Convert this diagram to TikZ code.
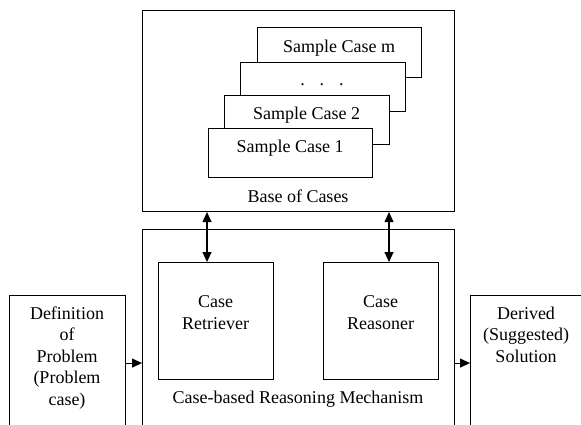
\documentclass[tikz,border=0pt]{standalone}
\usepackage{fontspec}
\setmainfont{Liberation Serif}
\usetikzlibrary{arrows.meta}
\begin{document}
\begin{tikzpicture}[x=1pt,y=-1pt,
  box/.style={draw, line width=1.1pt, fill=white, inner sep=0pt, anchor=north west},
  txt/.style={font=\fontsize{18}{21.5}\selectfont, align=center, inner sep=0pt, anchor=base},
  conn/.style={line width=1.1pt, -{Triangle[length=10pt,width=9pt]}},
  dconn/.style={line width=1.1pt, {Triangle[length=10pt,width=9pt]}-{Triangle[length=10pt,width=9pt]}}]
\useasboundingbox (0,0) rectangle (581,425);
\clip (0,0) rectangle (581,425);
% base of cases
\node[box, minimum width=312pt, minimum height=201pt] (base) at (142,10) {};
\node[box, minimum width=164pt, minimum height=50pt] (cm) at (257,27) {};
\node[box, minimum width=165pt, minimum height=49pt] (cd) at (240,62) {};
\node[box, minimum width=165pt, minimum height=49pt] (c2) at (224,95) {};
\node[box, minimum width=164pt, minimum height=49pt] (c1) at (208,128) {};
\node[txt] (tm) at (339,52.7) {Sample Case m};
\node[txt] (td) at (322,86) {.\hspace{15pt}.\hspace{15pt}.};
\node[txt] (t2) at (306.5,119.3) {Sample Case 2};
\node[txt] (t1) at (290,152.3) {Sample Case 1};
\node[txt] (tb) at (298,202.3) {Base of Cases};
% mechanism
\node[box, minimum width=312pt, minimum height=210pt] (mech) at (142,229) {};
\node[box, minimum width=115pt, minimum height=117pt] (ret) at (158,262) {};
\node[box, minimum width=115pt, minimum height=117pt] (rea) at (323,262) {};
\node[txt] (tret) at (215.5,329.3) {Case\\Retriever};
\node[txt] (trea) at (380.5,329.3) {Case\\Reasoner};
\node[txt] (tmech) at (298,403.3) {Case-based Reasoning Mechanism};
% input / output
\node[box, minimum width=116pt, minimum height=135pt] (def) at (9,295) {};
\node[box, minimum width=115pt, minimum height=135pt] (der) at (470,295) {};
\node[txt] (tdef) at (67,405.3) {Definition\\of\\Problem\\(Problem\\case)};
\node[txt] (tder) at (526,362) {Derived\\(Suggested)\\Solution};
% connectors
\coordinate (xa) at (207,0);
\coordinate (xb) at (389,0);
\draw[dconn] (base.south -| xa) -- (ret.north -| xa);
\draw[dconn] (base.south -| xb) -- (rea.north -| xb);
\draw[conn] (def.east) -- (def.east -| mech.west);
\draw[conn] (der.west -| mech.east) -- (der.west);
\end{tikzpicture}
\end{document}
